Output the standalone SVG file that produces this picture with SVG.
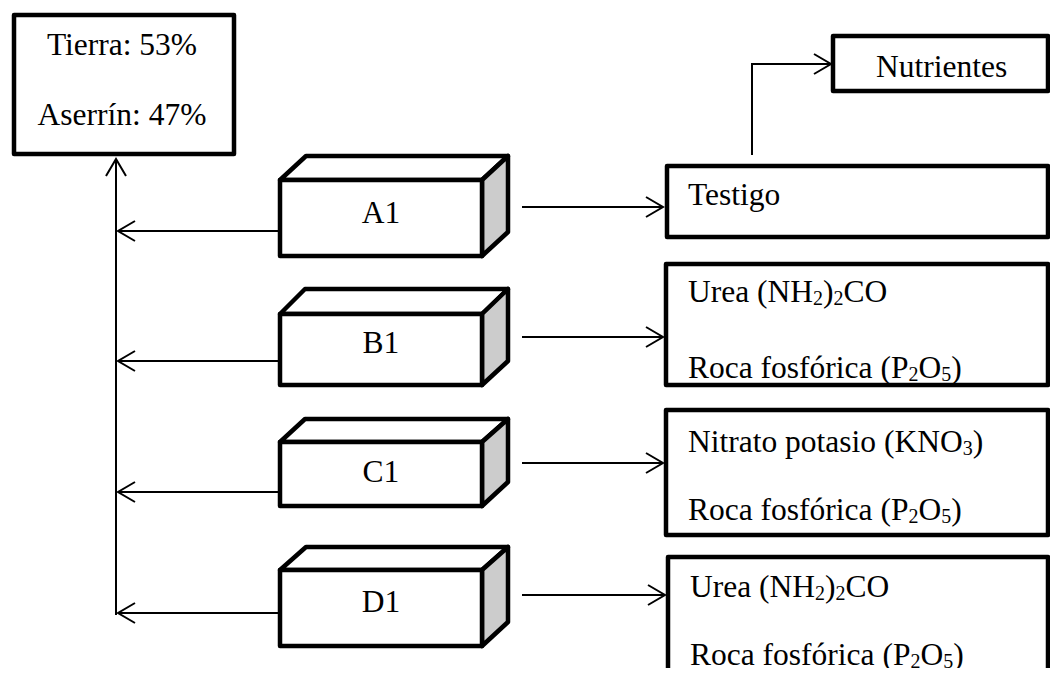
<svg xmlns="http://www.w3.org/2000/svg" width="1050" height="676" viewBox="0 0 1050 676">
  <style>
    .box { fill: #ffffff; stroke: #000000; stroke-width: 4.5; stroke-linejoin: round; }
    .side { fill: #cccccc; stroke: #000000; stroke-width: 4.5; stroke-linejoin: round; }
    .t { font-family: "Liberation Serif", "Times New Roman", serif; font-size: 31.5px; fill: #000000; }
    .c { text-anchor: middle; }
    .conn { fill: none; stroke: #000000; stroke-width: 2; marker-end: url(#arr); }
  </style>
  <defs>
    <marker id="arr" markerUnits="userSpaceOnUse" viewBox="-20 -12 22 24" refX="0" refY="0" markerWidth="22" markerHeight="24" orient="auto" overflow="visible">
      <path d="M-17,-10 L0,0 L-17,10" fill="none" stroke="#000000" stroke-width="2"/>
    </marker>
    <clipPath id="page">
      <rect x="0" y="0" width="1050" height="668"/>
    </clipPath>
  </defs>
  <rect x="0" y="0" width="1050" height="676" fill="#ffffff"/>
  <g clip-path="url(#page)">
    <g id="mezcla">
      <rect class="box" x="14" y="15" width="220" height="139"/>
      <text class="t c" x="122" y="55">Tierra: 53%</text>
      <text class="t c" x="122" y="125">Aserrín: 47%</text>
    </g>

    <g id="connectors">
      <line class="conn" x1="116" y1="615" x2="116" y2="159"/>
      <line class="conn" x1="280" y1="231" x2="118" y2="231"/>
      <line class="conn" x1="280" y1="361" x2="118" y2="361"/>
      <line class="conn" x1="280" y1="492" x2="118" y2="492"/>
      <line class="conn" x1="280" y1="613" x2="118" y2="613"/>
      <line class="conn" x1="522" y1="207" x2="663" y2="207"/>
      <line class="conn" x1="522" y1="337" x2="663" y2="337"/>
      <line class="conn" x1="522" y1="463" x2="663" y2="463"/>
      <line class="conn" x1="522" y1="595" x2="665" y2="595"/>
      <path class="conn" d="M752,155 L752,64 L831,64"/>
    </g>

    <g id="A1">
      <polygon class="box" points="280,180 306,156 508,156 482,180"/>
      <polygon class="side" points="482,180 508,156 508,232 482,256"/>
      <rect class="box" x="280" y="180" width="202" height="76"/>
      <text class="t c" x="381" y="223">A1</text>
    </g>
    <g id="B1">
      <polygon class="box" points="280,314 305,289 508,289 482,314"/>
      <polygon class="side" points="482,314 508,289 508,361 482,385"/>
      <rect class="box" x="280" y="314" width="202" height="71"/>
      <text class="t c" x="381" y="353">B1</text>
    </g>
    <g id="C1">
      <polygon class="box" points="280,442 305,419 508,419 482,442"/>
      <polygon class="side" points="482,442 508,419 508,482 482,506"/>
      <rect class="box" x="280" y="442" width="202" height="64"/>
      <text class="t c" x="381" y="482">C1</text>
    </g>
    <g id="D1">
      <polygon class="box" points="280,570 306,547 508,547 482,570"/>
      <polygon class="side" points="482,570 508,547 508,622 482,646"/>
      <rect class="box" x="280" y="570" width="202" height="76"/>
      <text class="t c" x="381" y="612">D1</text>
    </g>

    <g id="nutrientes">
      <rect class="box" x="833" y="36" width="215" height="55"/>
      <text class="t" x="876" y="77">Nutrientes</text>
    </g>
    <g id="testigo">
      <rect class="box" x="667" y="166" width="381" height="71"/>
      <text class="t" x="688" y="205">Testigo</text>
    </g>
    <g id="tratB">
      <rect class="box" x="666" y="264" width="382" height="121"/>
      <text class="t" x="688" y="302">Urea (NH<tspan dy="3" font-size="20">2</tspan><tspan dy="-3">)</tspan><tspan dy="3" font-size="20">2</tspan><tspan dy="-3">CO</tspan></text>
      <text class="t" x="688" y="378">Roca fosfórica (P<tspan dy="3" font-size="20">2</tspan><tspan dy="-3">O</tspan><tspan dy="3" font-size="20">5</tspan><tspan dy="-3">)</tspan></text>
    </g>
    <g id="tratC">
      <rect class="box" x="666" y="410" width="382" height="125"/>
      <text class="t" x="688" y="452">Nitrato potasio (KNO<tspan dy="3" font-size="20">3</tspan><tspan dy="-3">)</tspan></text>
      <text class="t" x="688" y="520">Roca fosfórica (P<tspan dy="3" font-size="20">2</tspan><tspan dy="-3">O</tspan><tspan dy="3" font-size="20">5</tspan><tspan dy="-3">)</tspan></text>
    </g>
    <g id="tratD">
      <rect class="box" x="668" y="557" width="380" height="140"/>
      <text class="t" x="690" y="597">Urea (NH<tspan dy="3" font-size="20">2</tspan><tspan dy="-3">)</tspan><tspan dy="3" font-size="20">2</tspan><tspan dy="-3">CO</tspan></text>
      <text class="t" x="690" y="665">Roca fosfórica (P<tspan dy="3" font-size="20">2</tspan><tspan dy="-3">O</tspan><tspan dy="3" font-size="20">5</tspan><tspan dy="-3">)</tspan></text>
    </g>
  </g>
</svg>
